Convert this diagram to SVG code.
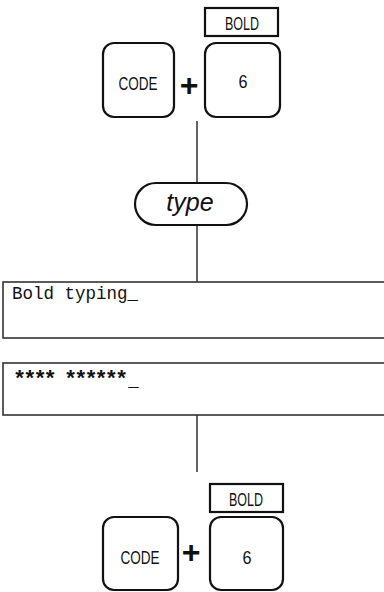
<svg xmlns="http://www.w3.org/2000/svg" width="384" height="592" viewBox="0 0 384 592">
<style>
.key{fill:#fff;stroke:#111;stroke-width:2.2}
.lbl{fill:#fff;stroke:#111;stroke-width:2.2}
.kt{font-family:"Liberation Sans",Arial,sans-serif;font-size:18px;fill:#111;text-anchor:middle}
.plus{font-family:"Liberation Sans",Arial,sans-serif;font-size:32px;font-weight:bold;fill:#111;text-anchor:middle}
.scr{fill:#fff;stroke:#333;stroke-width:1.6}
.mono{font-family:"Liberation Mono","DejaVu Sans Mono",monospace;font-size:17.5px;fill:#111}
.conn{stroke:#222;stroke-width:1.4;fill:none}
</style>
<rect width="384" height="592" fill="#fff"/>
<g id="connectors">
<line class="conn" x1="197" y1="121" x2="197" y2="183"/>
<line class="conn" x1="197" y1="225" x2="197" y2="282"/>
<line class="conn" x1="197" y1="415" x2="197" y2="472"/>
</g>
<g id="keys-top">
<rect class="lbl" x="205" y="8" width="73" height="28"/>
<text class="kt" x="242" y="30" textLength="34" lengthAdjust="spacingAndGlyphs">BOLD</text>
<rect class="key" x="103" y="43" width="71" height="74" rx="11"/>
<text class="kt" x="138" y="90" textLength="39" lengthAdjust="spacingAndGlyphs">CODE</text>
<text class="plus" x="189" y="96">+</text>
<rect class="key" x="205" y="43" width="75" height="74" rx="11"/>
<text class="kt" x="243" y="88" textLength="9" lengthAdjust="spacingAndGlyphs">6</text>
</g>
<g id="type">
<rect class="key" x="135" y="183" width="112" height="42" rx="21"/>
<text x="190" y="211" font-family="Liberation Sans,Arial,sans-serif" font-size="25" font-style="italic" fill="#111" text-anchor="middle">type</text>
</g>
<g id="screen1">
<rect class="scr" x="3" y="282" width="390" height="56"/>
<text class="mono" x="12" y="299">Bold typing_</text>
</g>
<g id="screen2">
<rect class="scr" x="3" y="363" width="390" height="52"/>
<text class="mono" x="13" y="386"><tspan font-weight="bold" font-size="22" letter-spacing="-3">**** ******</tspan><tspan dx="3">_</tspan></text>
</g>
<g id="keys-bottom">
<rect class="lbl" x="210" y="484" width="73" height="28"/>
<text class="kt" x="246" y="506" textLength="34" lengthAdjust="spacingAndGlyphs">BOLD</text>
<rect class="key" x="103" y="517" width="75" height="73" rx="11"/>
<text class="kt" x="140" y="564" textLength="39" lengthAdjust="spacingAndGlyphs">CODE</text>
<text class="plus" x="191" y="563">+</text>
<rect class="key" x="210" y="517" width="73" height="73" rx="11"/>
<text class="kt" x="247" y="564" textLength="9" lengthAdjust="spacingAndGlyphs">6</text>
</g>
</svg>
